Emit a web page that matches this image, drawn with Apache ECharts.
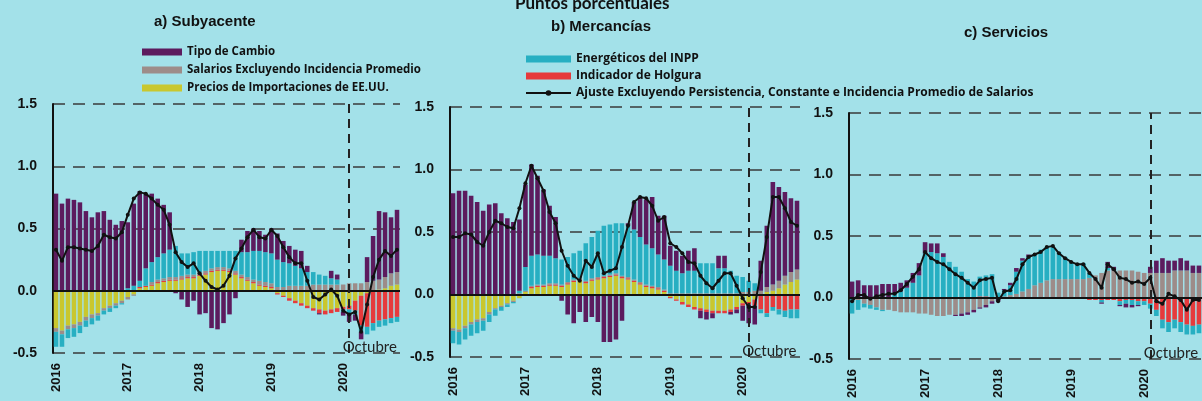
<!DOCTYPE html>
<html>
<head>
<meta charset="utf-8">
<script src="https://cdn.jsdelivr.net/npm/echarts@6/dist/echarts.min.js"></script>
<style>
html,body{margin:0;padding:0;background:#a3e1e9;}
#chart{width:1202px;height:401px;}
</style>
</head>
<body>
<div id="chart"></div>
<script>
// ---- categories ----
const years = ['2016','2017','2018','2019','2020'];
const monthsPerPanel = 58; // Jan 2016 - Oct 2020
const months = [];
years.forEach(function (y) {
  for (let m = 1; m <= 12; m++) {
    if (months.length < monthsPerPanel) months.push(y + '-' + (m < 10 ? '0' + m : m));
  }
});
const yTicks = [-0.5, 0, 0.5, 1.0, 1.5];
const markMonth = '2020-02';

// ---- series names ----
const nTC = 'Tipo de Cambio';
const nSal = 'Salarios Excluyendo Incidencia Promedio';
const nImp = 'Precios de Importaciones de EE.UU.';
const nEne = 'Energéticos del INPP';
const nHol = 'Indicador de Holgura';
const nAj = 'Ajuste Excluyendo Persistencia, Constante e Incidencia Promedio de Salarios';

// ---- a) Subyacente ----
const aTC = [0.78,0.70,0.74,0.73,0.71,0.64,0.59,0.63,0.64,0.57,0.53,0.56,
 0.53,0.66,0.72,0.60,0.55,0.47,0.39,0.30,-0.02,-0.07,-0.13,-0.08,
 -0.19,-0.18,-0.30,-0.31,-0.26,-0.19,-0.06,0.10,0.17,0.18,0.16,0.14,
 0.20,0.21,0.17,0.14,0.13,0.14,0.05,0.00,-0.01,0.00,0.06,0.04,
 -0.03,-0.07,-0.05,-0.06,0.20,0.36,0.55,0.52,0.45,0.50];
const aSal = [-0.03,-0.03,-0.03,-0.03,-0.03,-0.03,-0.03,-0.02,-0.02,-0.02,-0.02,-0.02,
 -0.02,-0.01,-0.01,-0.01,0.02,0.02,0.02,0.02,0.02,0.02,0.02,0.02,
 0.02,0.02,0.02,0.02,0.02,0.02,0.02,0.02,0.02,0.02,0.03,0.03,
 0.03,0.03,0.03,0.04,0.04,0.04,0.04,0.05,0.05,0.05,0.05,0.05,
 0.05,0.06,0.06,0.06,0.07,0.08,0.08,0.09,0.10,0.10];
const aImp = [-0.30,-0.32,-0.28,-0.27,-0.25,-0.21,-0.19,-0.18,-0.14,-0.12,-0.10,-0.08,
 -0.05,-0.03,0.02,0.03,0.04,0.06,0.07,0.08,0.08,0.09,0.10,0.10,
 0.12,0.13,0.15,0.16,0.16,0.15,0.13,0.10,0.08,0.06,0.04,0.03,
 0.02,-0.02,-0.04,-0.06,-0.08,-0.10,-0.12,-0.14,-0.15,-0.16,-0.15,-0.14,
 -0.13,-0.12,-0.08,-0.04,-0.02,0.00,0.01,0.02,0.04,0.05];
const aEne = [-0.12,-0.10,-0.07,-0.07,-0.06,-0.05,-0.05,-0.04,-0.03,-0.03,-0.02,-0.01,
 0.02,0.04,0.05,0.14,0.16,0.18,0.20,0.22,0.25,0.18,0.17,0.18,
 0.17,0.16,0.14,0.13,0.13,0.14,0.16,0.18,0.20,0.23,0.24,0.24,
 0.24,0.22,0.20,0.18,0.16,0.14,0.11,0.10,0.08,0.07,0.05,0.04,
 -0.02,-0.03,-0.03,-0.05,-0.06,-0.06,-0.05,-0.05,-0.04,-0.04];
const aHol = [0,0,0,0,0,0,0,0,0,0,0,0,
 0,0,0.01,0.01,0.01,0.01,0.01,0.01,0.01,0.01,0.01,0.01,
 0.01,0.01,0.01,0.01,0.01,0.01,0.01,0.01,0.01,0.01,0.01,0.01,
 0.01,-0.01,-0.01,-0.02,-0.02,-0.02,-0.02,-0.02,-0.03,-0.03,-0.03,-0.03,
 -0.02,-0.03,-0.08,-0.24,-0.27,-0.26,-0.24,-0.23,-0.22,-0.21];
const aAj = [0.33,0.24,0.35,0.35,0.34,0.33,0.32,0.36,0.45,0.43,0.42,0.47,
 0.61,0.74,0.79,0.78,0.74,0.69,0.65,0.53,0.31,0.23,0.19,0.22,
 0.14,0.08,0.03,0.01,0.04,0.12,0.26,0.34,0.43,0.49,0.43,0.42,
 0.49,0.44,0.35,0.27,0.22,0.22,0.08,-0.05,-0.07,-0.03,0.01,-0.04,
 -0.16,-0.19,-0.17,-0.33,-0.11,0.11,0.25,0.32,0.28,0.33];

// ---- b) Mercancías ----
const bTC = [0.81,0.83,0.83,0.79,0.74,0.67,0.72,0.73,0.65,0.61,0.58,0.57,
 0.66,0.73,0.63,0.53,0.40,0.33,-0.05,-0.16,-0.23,-0.14,-0.22,-0.18,
 -0.22,-0.38,-0.38,-0.36,-0.21,0.02,0.22,0.32,0.36,0.41,0.31,0.35,
 0.16,0.16,0.14,0.16,0.18,-0.06,-0.06,-0.04,0.10,0.10,-0.02,-0.03,
 -0.12,-0.15,-0.15,0.24,0.49,0.82,0.75,0.67,0.59,0.55];
const bSal = [-0.02,-0.02,-0.02,-0.02,-0.02,-0.02,-0.02,-0.01,-0.01,-0.01,-0.01,0.01,
 0.01,0.01,0.01,0.01,0.01,0.01,0.01,0.01,0.01,0.01,0.01,0.01,
 0.01,0.01,0.01,0.01,0.01,0.01,0.01,0.01,0.01,0.01,0.01,0.01,
 0.01,0.01,0.01,0.01,0.01,0.01,0.01,0.01,0.01,0.01,0.01,0.01,
 0.02,0.02,0.03,0.03,0.04,0.05,0.06,0.07,0.08,0.08];
const bImp = [-0.27,-0.28,-0.25,-0.22,-0.20,-0.19,-0.14,-0.11,-0.09,-0.07,-0.05,-0.03,
 0.02,0.05,0.06,0.06,0.07,0.07,0.06,0.08,0.10,0.11,0.09,0.11,
 0.12,0.13,0.14,0.15,0.13,0.12,0.10,0.08,0.06,0.05,0.04,0.02,
 -0.02,-0.04,-0.06,-0.08,-0.10,-0.11,-0.12,-0.13,-0.13,-0.13,-0.12,-0.10,
 -0.07,-0.06,-0.04,0.00,0.02,0.03,0.05,0.08,0.10,0.12];
const bEne = [-0.10,-0.10,-0.09,-0.09,-0.09,-0.08,-0.06,-0.05,-0.03,-0.02,-0.01,0.02,
 0.19,0.24,0.24,0.23,0.22,0.20,0.20,0.20,0.21,0.22,0.30,0.33,
 0.37,0.40,0.40,0.40,0.42,0.41,0.40,0.36,0.32,0.30,0.26,0.24,
 0.22,0.18,0.16,0.18,0.18,0.24,0.24,0.24,0.20,0.20,0.18,0.14,
 0.12,0.09,0.06,-0.03,-0.03,-0.03,-0.04,-0.05,-0.07,-0.07];
const bHol = [0,0,0,0,0,0,0,0,0,0,0,0,
 0,0.01,0.01,0.01,0.01,0.01,0.01,0.01,0.01,0.01,0.01,0.01,
 0.01,0.01,0.01,0.01,0.01,0.01,0.01,0.01,0.01,0.01,0.01,0.01,
 -0.01,-0.01,-0.02,-0.02,-0.02,-0.02,-0.02,-0.02,-0.02,-0.02,-0.02,-0.02,
 -0.02,-0.02,-0.05,-0.12,-0.15,-0.10,-0.12,-0.13,-0.12,-0.12];
const bAj = [0.46,0.46,0.49,0.48,0.42,0.39,0.50,0.59,0.57,0.54,0.53,0.69,
 0.89,1.03,0.93,0.83,0.66,0.57,0.35,0.23,0.15,0.11,0.27,0.22,
 0.33,0.17,0.19,0.21,0.38,0.55,0.74,0.78,0.77,0.71,0.59,0.62,
 0.41,0.38,0.33,0.26,0.25,0.15,0.09,0.05,0.11,0.17,0.17,0.07,
 -0.03,-0.10,-0.10,0.18,0.46,0.78,0.78,0.69,0.58,0.55];

// ---- c) Servicios ----
const cTC = [0.13,0.14,0.10,0.10,0.10,0.11,0.11,0.08,0.07,0.06,0.08,0.10,
 0.09,0.07,0.08,0.03,0.00,-0.01,-0.02,-0.02,-0.02,-0.01,-0.02,-0.02,
 -0.03,0.01,0.02,0.03,0.02,0.02,0.00,0.00,0.00,0.00,0.00,0.00,
 0.00,0.00,0.00,0.00,0.00,-0.01,0.05,0.03,-0.01,-0.03,-0.02,-0.01,
 0.00,0.05,0.10,0.12,0.10,0.08,0.10,0.08,0.06,0.06];
const cSal = [-0.01,-0.02,-0.05,-0.06,-0.08,-0.10,-0.10,-0.11,-0.12,-0.12,-0.12,-0.13,
 -0.13,-0.14,-0.15,-0.15,-0.14,-0.14,-0.13,-0.12,-0.10,-0.08,-0.06,-0.03,
 0.00,0.01,0.02,0.03,0.05,0.07,0.10,0.12,0.14,0.15,0.15,0.15,
 0.15,0.15,0.15,0.16,0.18,0.20,0.22,0.22,0.22,0.22,0.22,0.21,
 0.20,0.20,0.20,0.20,0.20,0.22,0.22,0.22,0.20,0.20];
const cImp = [0,0,0,0,0,0,0,0,0,0,0,0,
 0,0,0,0,0,0,0,0,0,0,0,0,
 0,0,0,0,0,0,0,0,0,0,0,0,
 0,0,0,0,0,0,0,0,0,0,0,0,
 0,0,0,0,0,0,0,0,0,0];
const cEne = [-0.12,-0.08,-0.03,-0.03,-0.02,-0.01,0.00,0.03,0.05,0.08,0.12,0.18,
 0.36,0.37,0.36,0.33,0.29,0.25,0.21,0.15,0.13,0.16,0.17,0.19,
 0.04,0.05,0.08,0.18,0.25,0.26,0.25,0.27,0.27,0.26,0.22,0.18,
 0.14,0.13,0.13,0.04,0.00,-0.02,0.02,0.00,-0.03,-0.03,-0.04,-0.03,
 -0.03,-0.04,-0.05,-0.07,-0.08,-0.07,-0.08,-0.08,-0.07,-0.07];
const cHol = [0,0,0,0,0,0,0,0,0,0,0,0,
 0,0,0,0,0,0,0,0,0,0.01,0.01,0,
 0,0,0,0,0,0,0,0,0,0,0,0,
 -0.01,-0.01,-0.01,-0.02,-0.02,-0.02,-0.02,-0.02,-0.03,-0.02,-0.02,-0.03,
 -0.03,-0.05,-0.10,-0.18,-0.20,-0.18,-0.20,-0.22,-0.23,-0.22];
const cAj = [-0.03,0.02,0.02,-0.01,0.01,0.02,0.03,0.03,0.06,0.11,0.17,0.23,
 0.37,0.32,0.29,0.27,0.23,0.19,0.16,0.12,0.08,0.14,0.15,0.16,
 -0.03,0.05,0.06,0.15,0.27,0.33,0.35,0.37,0.41,0.42,0.36,0.32,
 0.29,0.27,0.27,0.20,0.15,0.08,0.27,0.23,0.16,0.15,0.12,0.13,
 0.11,0.16,-0.03,-0.05,0.03,0.01,-0.02,-0.10,-0.02,-0.02];

// ---- styling ----
const colors = {};
colors[nTC] = '#5c1b5e';
colors[nSal] = '#9d8c89';
colors[nImp] = '#c9c72e';
colors[nEne] = '#27afc2';
colors[nHol] = '#e63a3c';

const panels = [
  {grid: {left: 53, top: 104, width: 347, height: 249}, data: [aImp, aHol, aSal, aEne, aTC], line: aAj},
  {grid: {left: 450, top: 107, width: 350, height: 250}, data: [bImp, bHol, bSal, bEne, bTC], line: bAj},
  {grid: {left: 849, top: 113, width: 357, height: 248}, data: [cImp, cHol, cSal, cEne, cTC], line: cAj}
];
const stackNames = [nImp, nHol, nSal, nEne, nTC];

const grids = [], xAxes = [], yAxes = [], series = [];
panels.forEach(function (p, k) {
  grids.push(Object.assign({containLabel: false}, p.grid));
  xAxes.push({
    type: 'category', gridIndex: k, data: months, boundaryGap: true,
    axisLine: {show: false}, axisTick: {show: false},
    axisLabel: {
      rotate: 90, margin: 10, fontSize: 13, fontWeight: 'bold',
      fontFamily: 'Liberation Sans', color: '#111',
      interval: function (i) { return i % 12 === 0; },
      formatter: function (v) { return v.slice(0, 4); }
    },
    splitLine: {show: false}
  });
  yAxes.push({
    type: 'value', gridIndex: k, min: yTicks[0], max: yTicks[yTicks.length - 1], interval: 0.5,
    axisLine: {show: true, lineStyle: {color: '#111', width: 2}},
    axisTick: {show: false},
    axisLabel: {
      margin: 16, fontSize: 14, fontWeight: 'bold', fontFamily: 'Liberation Sans', color: '#111',
      formatter: function (v) { return v.toFixed(1); }
    },
    splitLine: {show: true, lineStyle: {color: '#3a3a3a', width: 1.5, type: [12, 8]}}
  });
  stackNames.forEach(function (nm, j) {
    series.push({
      type: 'bar', name: nm, xAxisIndex: k, yAxisIndex: k, stack: 'p' + k,
      data: p.data[j], barCategoryGap: '24%',
      itemStyle: {color: colors[nm]}, animation: false
    });
  });
  series.push({
    type: 'line', name: nAj, xAxisIndex: k, yAxisIndex: k, data: p.line, z: 10,
    symbol: 'circle', symbolSize: 4, showSymbol: true, showAllSymbol: true,
    lineStyle: {color: '#111', width: 2}, itemStyle: {color: '#111'},
    animation: false,
    markLine: {
      silent: true, symbol: 'none', animation: false,
      label: {show: false},
      data: [
        {yAxis: 0, lineStyle: {color: '#111', width: 2, type: 'solid'}},
        {xAxis: markMonth, lineStyle: {color: '#222', width: 2, type: [9, 6]}}
      ]
    },
    markPoint: {
      silent: true, animation: false,
      data: [{
        coord: [markMonth, -0.45], symbol: 'circle', symbolSize: 1,
        itemStyle: {color: 'rgba(0,0,0,0)'},
        label: {show: true, formatter: 'Octubre', position: 'right', offset: [-12, 0],
          color: '#222', fontSize: 15, fontFamily: 'Lato'}
      }]
    }
  });
});

const legendText1 = {fontFamily: 'Open Sans', fontWeight: 'bold', fontSize: 11.5, color: '#111'};
const legendText2 = {fontFamily: 'Open Sans', fontWeight: 'bold', fontSize: 12, color: '#111'};
const option = {
  backgroundColor: '#a3e1e9',
  animation: false,
  title: [
    {text: 'Puntos porcentuales', left: 510, top: -10, textStyle: {fontFamily: 'Lato', fontSize: 17, fontWeight: 'bold', color: '#111'}},
    {text: 'a) Subyacente', left: 149, top: 9, textStyle: {fontFamily: 'Liberation Sans', fontSize: 15, fontWeight: 'bold', color: '#111'}},
    {text: 'b) Mercancías', left: 546, top: 14, textStyle: {fontFamily: 'Liberation Sans', fontSize: 15, fontWeight: 'bold', color: '#111'}},
    {text: 'c) Servicios', left: 959, top: 20, textStyle: {fontFamily: 'Liberation Sans', fontSize: 15, fontWeight: 'bold', color: '#111'}}
  ],
  legend: [
    {
      left: 137, top: 41, orient: 'vertical', itemWidth: 40, itemHeight: 7, itemGap: 6,
      icon: 'rect', textStyle: legendText1, selectedMode: false,
      data: [nTC, nSal, nImp]
    },
    {
      left: 520, top: 48, orient: 'vertical', itemWidth: 45, itemHeight: 7, itemGap: 5,
      textStyle: legendText2, selectedMode: false,
      data: [{name: nEne, icon: 'rect'}, {name: nHol, icon: 'rect'}, {name: nAj}]
    }
  ],
  grid: grids,
  xAxis: xAxes,
  yAxis: yAxes,
  series: series
};

const chart = echarts.init(document.getElementById('chart'), null, {renderer: 'canvas'});
chart.setOption(option);
</script>
</body>
</html>
